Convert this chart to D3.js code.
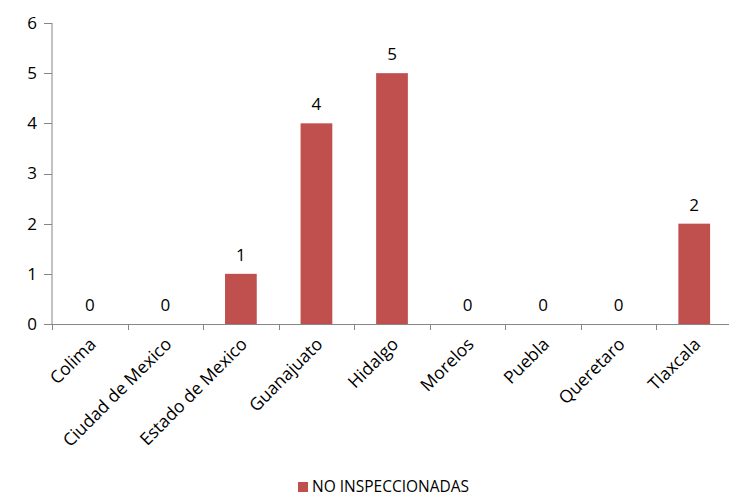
<!DOCTYPE html>
<html><head><meta charset="utf-8">
<script src="https://cdn.jsdelivr.net/npm/d3@7"></script>
<style>body{margin:0;background:#fff}svg{display:block}text{font-family:"Open Sans",sans-serif;fill:#000}</style>
</head><body>
<script>
const categories = ["Colima","Ciudad de Mexico","Estado de Mexico","Guanajuato","Hidalgo","Morelos","Puebla","Queretaro","Tlaxcala"];
const values = [0,0,1,4,5,0,0,0,2];
const yTicks = [0,1,2,3,4,5,6];
const seriesName = "NO INSPECCIONADAS";

const W=729,H=496;
const svg=d3.select("body").append("svg").attr("width",W).attr("height",H);
const x=d3.scaleBand().domain(categories).range([52,732]).paddingInner(0).paddingOuter(0);
const y=d3.scaleLinear().domain([0,6]).range([324,23]);
const color="#C0504D", axisColor="#868686";

// y axis
svg.append("line").attr("x1",52).attr("x2",52).attr("y1",y(6)).attr("y2",y(0)).attr("stroke",axisColor);
yTicks.forEach(t=>{
  svg.append("line").attr("x1",44).attr("x2",52).attr("y1",Math.round(y(t))+0.5).attr("y2",Math.round(y(t))+0.5).attr("stroke",axisColor);
  svg.append("text").attr("x",37).attr("y",y(t)).attr("dy","0.35em").attr("text-anchor","end").attr("font-size",17).text(t);
});
// x axis
svg.append("line").attr("x1",52).attr("x2",W).attr("y1",324.5).attr("y2",324.5).attr("stroke",axisColor);
categories.forEach((c,i)=>{
  const xb=Math.round(x(c))+0.5;
  svg.append("line").attr("x1",xb).attr("x2",xb).attr("y1",324).attr("y2",330).attr("stroke",axisColor);
});
// bars
const bw=x.bandwidth()*0.42;
svg.selectAll("rect.bar").data(values).enter().append("rect")
  .attr("x",(d,i)=>x(categories[i])+x.bandwidth()/2-bw/2)
  .attr("width",bw)
  .attr("y",d=>y(d)).attr("height",d=>y(0)-y(d)).attr("fill",color);
// value labels
svg.selectAll("text.val").data(values).enter().append("text")
  .attr("x",(d,i)=>x(categories[i])+x.bandwidth()/2)
  .attr("y",d=>y(d)-13).attr("text-anchor","middle").attr("font-size",17).text(d=>d);
// category labels
categories.forEach(c=>{
  const cx=x(c)+x.bandwidth()/2+3, cy=341;
  svg.append("text").attr("transform",`translate(${cx},${cy}) rotate(-45)`)
    .attr("text-anchor","end").attr("dy","0.35em").attr("font-size",17.5).text(c);
});
// legend
svg.append("rect").attr("x",298).attr("y",482).attr("width",10).attr("height",10).attr("fill",color);
svg.append("text").attr("x",312).attr("y",492).attr("font-size",15.5).text(seriesName);
</script>
</body></html>
